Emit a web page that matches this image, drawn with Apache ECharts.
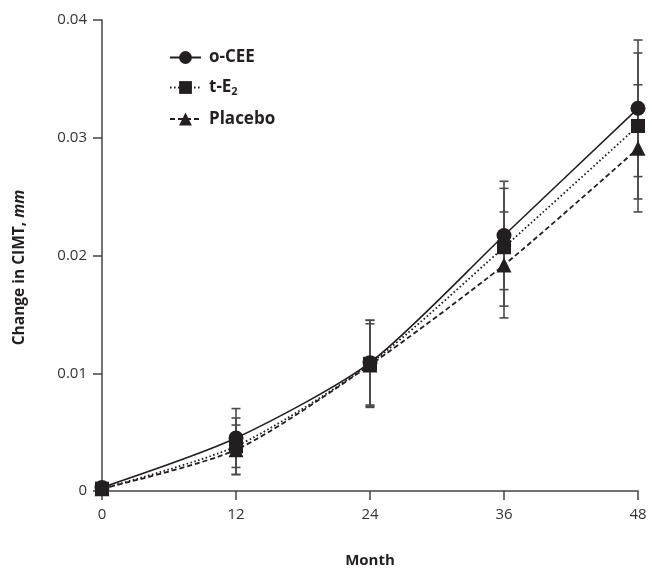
<!DOCTYPE html>
<html>
<head>
<meta charset="utf-8">
<script src="https://cdn.jsdelivr.net/npm/echarts@6/dist/echarts.min.js"></script>
<style>
  html, body { margin: 0; padding: 0; background: #fff; }
  .chart { width: 651px; height: 573px; }
</style>
</head>
<body>
<div class="chart" id="chart"></div>
<script>
// months of follow-up
var months = [0, 12, 24, 36, 48]
var yTicks = [0, 0.01, 0.02, 0.03, 0.04]

// mean change in CIMT (mm)
var ceeMean = [0.0003, 0.0045, 0.0109, 0.0217, 0.0325]
var e2Mean = [0.0002, 0.0038, 0.0108, 0.0207, 0.0310]
var placeboMean = [0.0002, 0.0035, 0.0107, 0.0192, 0.0291]

// error bar half widths (mm)
var ceeErr = [0, 0.0025, 0.0036, 0.0046, 0.0058]
var e2Err = [0, 0.0024, 0.0037, 0.0050, 0.0062]
var placeboErr = [0, 0.0021, 0.0035, 0.0045, 0.0054]

var ink = '#231f20'

function points (mean) {
  return months.map(function (m, i) { return [m, mean[i]] })
}

function errData (mean, err) {
  var out = []
  months.forEach(function (m, i) {
    if (err[i] > 0) out.push([m, mean[i] - err[i], mean[i] + err[i]])
  })
  return out
}

function errSeries (mean, err) {
  return {
    type: 'custom',
    silent: true,
    z: 1,
    data: errData(mean, err),
    encode: { x: 0, y: [1, 2] },
    renderItem: function (params, api) {
      var lo = api.coord([api.value(0), api.value(1)])
      var hi = api.coord([api.value(0), api.value(2)])
      var cap = 4.5
      var style = { stroke: '#4a4a4a', lineWidth: 1.6 }
      return {
        type: 'group',
        children: [
          { type: 'line', shape: { x1: lo[0], y1: lo[1], x2: hi[0], y2: hi[1] }, style: style },
          { type: 'line', shape: { x1: hi[0] - cap, y1: hi[1], x2: hi[0] + cap, y2: hi[1] }, style: style },
          { type: 'line', shape: { x1: lo[0] - cap, y1: lo[1], x2: lo[0] + cap, y2: lo[1] }, style: style }
        ]
      }
    }
  }
}

var chart = echarts.init(document.getElementById('chart'))

chart.setOption({
  animation: false,
  textStyle: { fontFamily: 'Open Sans' },
  grid: { left: 102, right: 13, top: 20, bottom: 77 },
  legend: {
    orient: 'vertical',
    left: 164,
    top: 44,
    itemWidth: 31,
    itemHeight: 16,
    itemGap: 13,
    textStyle: {
      fontFamily: 'Open Sans',
      fontWeight: 'bold',
      fontSize: 17,
      color: ink,
      padding: [0, 0, 0, 3],
      rich: {
        sub: { fontSize: 11, fontWeight: 'bold', color: ink, padding: [9, 0, 0, 0] }
      }
    },
    formatter: function (name) {
      return name === 't-E2' ? 't-E{sub|2}' : name
    },
    data: ['o-CEE', 't-E2', 'Placebo']
  },
  xAxis: {
    type: 'value',
    min: 0,
    max: 48,
    interval: 12,
    name: 'Month',
    nameLocation: 'middle',
    nameGap: 62,
    nameTextStyle: { fontWeight: 'bold', fontSize: 15, color: ink },
    axisLine: { lineStyle: { color: '#444', width: 1.5 } },
    axisTick: { length: 9, lineStyle: { color: '#444', width: 1.5 } },
    axisLabel: {
      fontSize: 15,
      color: '#333',
      margin: 16,
      formatter: function (v) { return months.indexOf(v) >= 0 ? String(v) : '' }
    },
    splitLine: { show: false }
  },
  yAxis: {
    type: 'value',
    min: 0,
    max: 0.04,
    interval: 0.01,
    name: 'Change in CIMT, {i|mm}',
    nameLocation: 'middle',
    nameGap: 74,
    nameTextStyle: {
      fontWeight: 'bold',
      fontSize: 15.5,
      color: ink,
      padding: [0, 0, 0, -24],
      rich: { i: { fontStyle: 'italic', fontWeight: 'bold', fontSize: 15.5, color: ink } }
    },
    axisLine: { show: true, lineStyle: { color: '#444', width: 1.5 } },
    axisTick: { show: true, length: 9, lineStyle: { color: '#444', width: 1.5 } },
    axisLabel: {
      fontSize: 15,
      color: '#333',
      margin: 15,
      formatter: function (v) {
        var i = yTicks.findIndex(function (t) { return Math.abs(t - v) < 1e-9 })
        return i < 0 ? '' : (i === 0 ? '0' : yTicks[i].toFixed(2))
      }
    },
    splitLine: { show: false }
  },
  series: [
    errSeries(ceeMean, ceeErr),
    errSeries(e2Mean, e2Err),
    errSeries(placeboMean, placeboErr),
    {
      name: 'o-CEE',
      type: 'line',
      smooth: 0.25,
      z: 5,
      data: points(ceeMean),
      symbol: 'circle',
      symbolSize: 15,
      itemStyle: { color: ink },
      lineStyle: { color: ink, width: 1.6, type: 'solid' }
    },
    {
      name: 't-E2',
      type: 'line',
      smooth: 0.25,
      z: 4,
      data: points(e2Mean),
      symbol: 'rect',
      symbolSize: 14,
      itemStyle: { color: ink },
      lineStyle: { color: ink, width: 1.8, type: [1.6, 2.4] }
    },
    {
      name: 'Placebo',
      type: 'line',
      smooth: 0.25,
      z: 3,
      data: points(placeboMean),
      symbol: 'triangle',
      symbolSize: 15,
      itemStyle: { color: ink },
      lineStyle: { color: ink, width: 1.8, type: [5, 3] }
    }
  ]
})

window.addEventListener('resize', chart.resize)
</script>
</body>
</html>
